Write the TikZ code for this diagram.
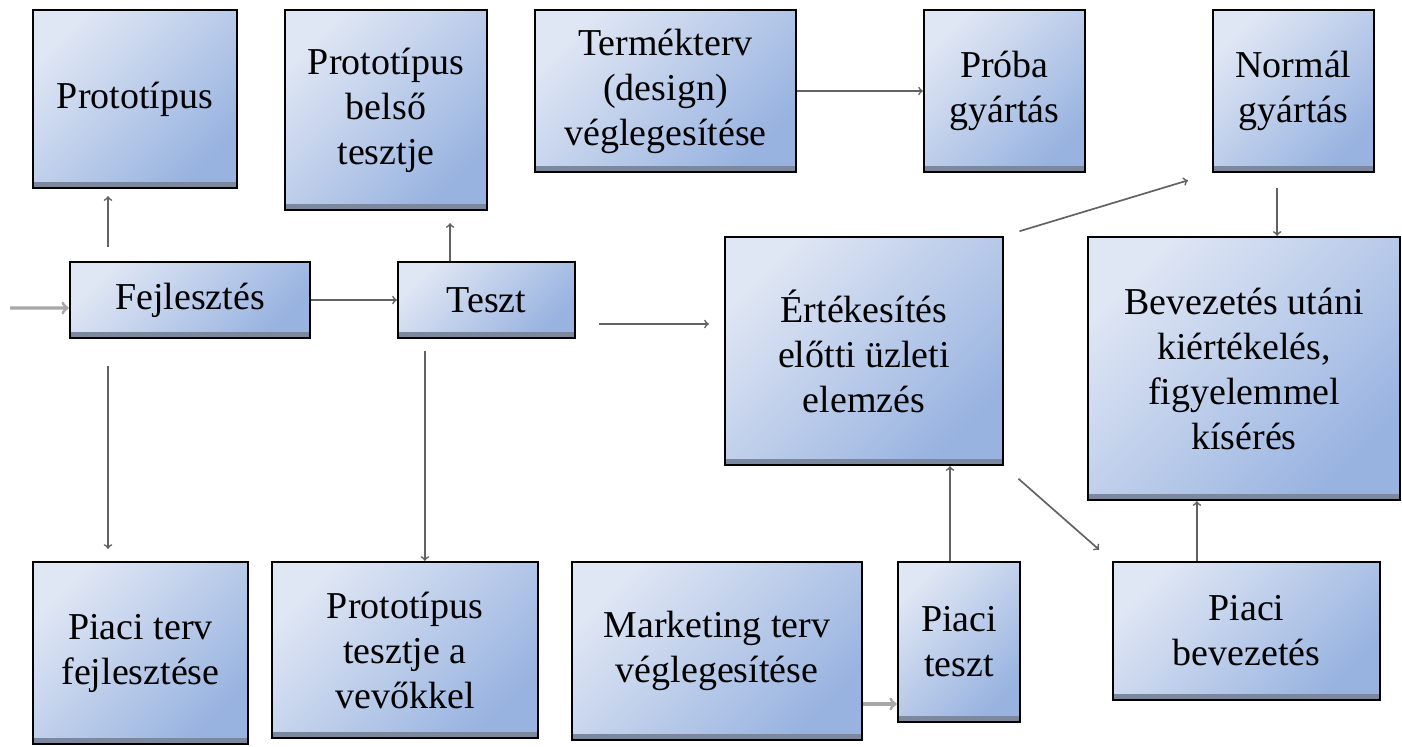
\documentclass[tikz,border=0pt]{standalone}
\usepackage{fontspec}
\setmainfont{Liberation Serif}
\usepackage{tikz}
\usetikzlibrary{arrows,shapes}
\usetikzlibrary{positioning}
\definecolor{boxlight}{HTML}{DFE6F4}
\definecolor{boxdark}{HTML}{98B3E0}
\definecolor{boxfoot}{HTML}{7C889E}
\definecolor{linkgray}{HTML}{626262}
\definecolor{feedgray}{HTML}{A8A8A8}

\begin{document}
\begin{tikzpicture}[x=0.025cm, y=-0.025cm]
\tikzstyle{stage} = [rectangle, draw = black, line width=1.6pt, inner sep=2pt,
  top color=boxlight, bottom color=boxdark, shading angle=45, align=center,
  font=\fontsize{27}{32}\selectfont,
  path picture={\fill[boxfoot] (path picture bounding box.south west) rectangle ([yshift=4pt]path picture bounding box.south east);}]
\tikzstyle{link} = [->, draw = linkgray, line width=1.2pt]
\tikzstyle{feed} = [->, draw = feedgray, line width=2.2pt]
\useasboundingbox (0,0) rectangle (1402,746);

% top row
\node (proto) [stage, minimum width=5.1cm, minimum height=4.45cm] at (135,99) {Prototípus};
\node (belso) [stage, minimum width=5.05cm, minimum height=5cm] at (386,110) {Prototípus\\belső\\tesztje};
\node (termek) [stage, minimum width=6.525cm, minimum height=4.05cm] at (665.5,91) {Termékterv\\(design)\\véglegesítése};
\node (proba) [stage, minimum width=4.025cm, minimum height=4.05cm] at (1004.5,91) {Próba\\gyártás};
\node (normal) [stage, minimum width=4.025cm, minimum height=4.05cm] at (1293.5,91) {Normál\\gyártás};

% middle row
\node (fejl) [stage, minimum width=6cm, minimum height=1.9cm] at (190,300) {Fejlesztés};
\node (teszt) [stage, minimum width=4.425cm, minimum height=1.9cm] at (486.5,300) {Teszt};
\node (ert) [stage, minimum width=6.95cm, minimum height=5.7cm] at (864,351) {Értékesítés\\előtti üzleti\\elemzés};
\node (bevez) [stage, minimum width=7.8cm, minimum height=6.575cm] at (1244,368.5) {Bevezetés utáni\\kiértékelés,\\figyelemmel\\kísérés};

% bottom row
\node (piacterv) [stage, minimum width=5.375cm, minimum height=4.55cm] at (140.5,653) {Piaci terv\\fejlesztése};
\node (vevok) [stage, minimum width=6.65cm, minimum height=4.4cm] at (405,650) {Prototípus\\tesztje a\\vevőkkel};
\node (mkt) [stage, minimum width=7.25cm, minimum height=4.45cm] at (717,651) {Marketing terv\\véglegesítése};
\node (piacteszt) [stage, minimum width=3.05cm, minimum height=4cm] at (959,642) {Piaci\\teszt};
\node (piacbev) [stage, minimum width=6.675cm, minimum height=3.45cm] at (1246.5,631) {Piaci\\bevezetés};

\coordinate (start) at (10,308);

\draw [feed] (start) -- ([yshift=-0.2cm]fejl.west);
\draw [link] (fejl.east) -- (teszt.west);
\draw [link, shorten <=0.35cm, shorten >=0.175cm] ([xshift=-2.05cm]fejl.north) -- ([xshift=-2.05cm]fejl.north |- proto.south);
\draw [link, shorten <=0.675cm, shorten >=0.3cm] ([xshift=-2.05cm]fejl.south) -- ([xshift=-2.05cm]fejl.south |- piacterv.north);
\draw [link, shorten >=0.3cm] ([xshift=-0.91cm]teszt.north) -- ([xshift=-0.91cm]teszt.north |- belso.south);
\draw [link, shorten <=0.3cm] ([xshift=-1.54cm]teszt.south) -- ([xshift=-1.54cm]teszt.south |- vevok.north);
\draw [link, shorten <=0.575cm, shorten >=0.375cm] ([yshift=-0.6cm]teszt.east) -- ([yshift=-0.6cm]teszt.east -| ert.west);
\draw [link] (termek.east) -- (proba.west);
\draw [link, shorten <=0.4cm, shorten >=0.625cm] (ert.north east) -- (normal.south west);
\draw [link, shorten <=0.375cm] ([xshift=-0.41cm]normal.south) -- ([xshift=-0.41cm]normal.south |- bevez.north);
\draw [link, shorten <=0.475cm, shorten >=0.425cm] (ert.south east) -- (piacbev.north west);
\draw [link] ([xshift=-0.225cm]piacteszt.north) -- ([xshift=-0.225cm]piacteszt.north |- ert.south);
\draw [link] ([xshift=-1.24cm]piacbev.north) -- ([xshift=-1.24cm]piacbev.north |- bevez.south);
\draw [feed] ([yshift=-1.325cm]mkt.east) -- ([yshift=-1.325cm]mkt.east -| piacteszt.west);
\end{tikzpicture}
\end{document}
